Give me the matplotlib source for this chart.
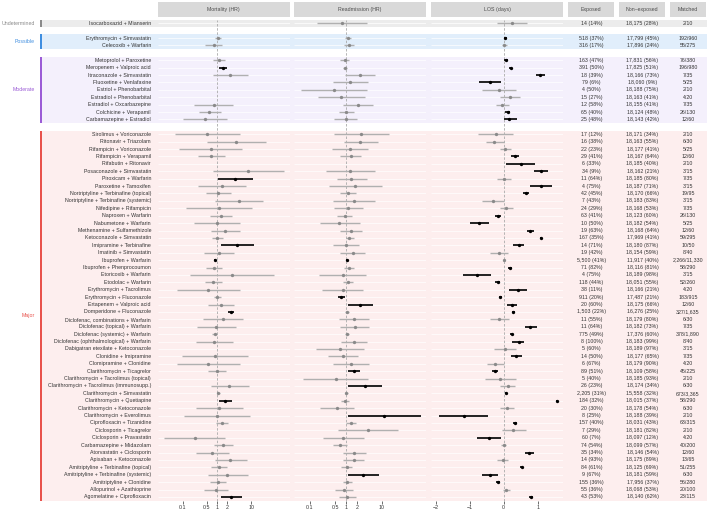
import numpy as np
import matplotlib
matplotlib.use("Agg")
import matplotlib.pyplot as plt
from matplotlib.patches import Rectangle

plt.rcParams['font.family'] = ['Liberation Sans', 'DejaVu Sans']

# ---------------- data ----------------
group_names = ['Undetermined', 'Possible', 'Moderate', 'Major']
group_sizes = [1, 2, 9, 50]
group_colors = ['#8a8a8a', '#3f8ee0', '#9b5cd6', '#e8524c']
band_colors = ['#ececec', '#e1eefb', '#f4f0fc', '#fdeeee']

labels = [
    "Isocarboxazid + Mianserin",
    "Erythromycin + Simvastatin", "Celecoxib + Warfarin",
    "Metoprolol + Paroxetine", "Meropenem + Valproic acid", "Itraconazole + Simvastatin",
    "Fluoxetine + Venlafaxine", "Estriol + Phenobarbital", "Estradiol + Phenobarbital",
    "Estradiol + Oxcarbazepine", "Colchicine + Verapamil", "Carbamazepine + Estradiol",
    "Sirolimus + Voriconazole", "Ritonavir + Triazolam", "Rifampicin + Voriconazole",
    "Rifampicin + Verapamil", "Rifabutin + Ritonavir", "Posaconazole + Simvastatin",
    "Piroxicam + Warfarin", "Paroxetine + Tamoxifen", "Nortriptyline + Terbinafine (topical)",
    "Nortriptyline + Terbinafine (systemic)", "Nifedipine + Rifampicin", "Naproxen + Warfarin",
    "Nabumetone + Warfarin", "Methenamine + Sulfamethizole", "Ketoconazole + Simvastatin",
    "Imipramine + Terbinafine", "Imatinib + Simvastatin", "Ibuprofen + Warfarin",
    "Ibuprofen + Phenprocoumon", "Etoricoxib + Warfarin", "Etodolac + Warfarin",
    "Erythromycin + Tacrolimus", "Erythromycin + Fluconazole", "Ertapenem + Valproic acid",
    "Domperidone + Fluconazole", "Diclofenac, combinations + Warfarin",
    "Diclofenac (topical) + Warfarin", "Diclofenac (systemic) + Warfarin",
    "Diclofenac (ophthalmological) + Warfarin", "Dabigatran etexilate + Ketoconazole",
    "Clonidine + Imipramine", "Clomipramine + Clonidine", "Clarithromycin + Ticagrelor",
    "Clarithromycin + Tacrolimus (topical)", "Clarithromycin + Tacrolimus (immunosupp.)",
    "Clarithromycin + Simvastatin", "Clarithromycin + Quetiapine",
    "Clarithromycin + Ketoconazole", "Clarithromycin + Everolimus",
    "Ciprofloxacin + Tizanidine", "Ciclosporin + Ticagrelor", "Ciclosporin + Pravastatin",
    "Carbamazepine + Midazolam", "Atorvastatin + Ciclosporin", "Apixaban + Ketoconazole",
    "Amitriptyline + Terbinafine (topical)", "Amitriptyline + Terbinafine (systemic)",
    "Amitriptyline + Clonidine", "Allopurinol + Azathioprine", "Agomelatine + Ciprofloxacin",
]

exposed = [
    "14 (14%)", "518 (37%)", "316 (17%)",
    "163 (47%)", "391 (50%)", "18 (39%)", "79 (6%)", "4 (50%)", "15 (27%)", "12 (58%)",
    "65 (40%)", "25 (48%)",
    "17 (12%)", "16 (38%)", "22 (23%)", "29 (41%)", "6 (33%)", "34 (9%)", "11 (64%)",
    "4 (75%)", "42 (45%)", "7 (43%)", "24 (29%)", "63 (41%)", "10 (50%)", "19 (63%)",
    "167 (35%)", "14 (71%)", "19 (42%)", "5,500 (41%)", "71 (82%)", "4 (75%)", "118 (44%)",
    "38 (11%)", "911 (20%)", "20 (60%)", "1,503 (22%)", "11 (55%)", "11 (64%)", "775 (49%)",
    "8 (100%)", "5 (60%)", "14 (50%)", "6 (67%)", "89 (51%)", "5 (40%)", "26 (23%)",
    "2,205 (31%)", "184 (32%)", "20 (30%)", "8 (25%)", "157 (40%)", "7 (29%)", "60 (7%)",
    "74 (54%)", "35 (34%)", "14 (93%)", "84 (61%)", "9 (67%)", "155 (36%)", "55 (36%)",
    "43 (53%)",
]

non_exposed = [
    "18,175 (28%)", "17,799 (45%)", "17,896 (24%)",
    "17,831 (56%)", "17,825 (51%)", "18,166 (73%)", "18,060 (9%)", "18,188 (75%)",
    "18,163 (41%)", "18,155 (41%)", "18,124 (48%)", "18,143 (42%)",
    "18,171 (34%)", "18,163 (55%)", "18,177 (41%)", "18,167 (64%)", "18,185 (40%)",
    "18,162 (21%)", "18,185 (80%)", "18,187 (71%)", "18,170 (66%)", "18,183 (83%)",
    "18,168 (53%)", "18,123 (60%)", "18,182 (54%)", "18,168 (64%)", "17,969 (41%)",
    "18,180 (87%)", "18,154 (59%)", "11,917 (40%)", "18,116 (81%)", "18,189 (98%)",
    "18,051 (55%)", "18,166 (21%)", "17,487 (21%)", "18,175 (66%)", "16,276 (25%)",
    "18,179 (80%)", "18,182 (73%)", "17,376 (60%)", "18,183 (99%)", "18,189 (97%)",
    "18,177 (65%)", "18,179 (90%)", "18,109 (58%)", "18,185 (93%)", "18,174 (34%)",
    "15,558 (32%)", "18,015 (37%)", "18,178 (54%)", "18,188 (39%)", "18,031 (43%)",
    "18,181 (82%)", "18,097 (12%)", "18,099 (57%)", "18,146 (54%)", "18,175 (89%)",
    "18,125 (69%)", "18,181 (59%)", "17,956 (37%)", "18,068 (53%)", "18,140 (62%)",
]

matched = [
    "2/10", "192/960", "55/275",
    "76/380", "196/980", "7/35", "5/25", "2/10", "4/20", "7/35", "26/130", "12/60",
    "2/10", "6/30", "5/25", "12/60", "2/10", "3/15", "7/35", "3/15", "19/95", "3/15",
    "7/35", "26/130", "5/25", "12/60", "59/295", "10/50", "8/40", "2,266/11,330", "58/290",
    "3/15", "52/260", "4/20", "183/915", "12/60", "327/1,635", "6/30", "7/35", "378/1,890",
    "8/40", "3/15", "7/35", "4/20", "45/225", "2/10", "6/30", "673/3,365", "58/290", "6/30",
    "2/10", "63/315", "2/10", "4/20", "40/200", "12/60", "13/65", "51/255", "6/30",
    "56/280", "20/100", "23/115",
]

nan = np.nan
mort_est = [nan, 1.07, 0.80, 1.12, 1.49, 2.49, nan, nan, nan, 0.80, 0.61, 0.46,
            0.51, 3.55, 0.66, 0.69, nan, 7.9, 3.4, 1.40, 1.09, 4.3, 1.12, 1.31, 1.0, 1.71,
            1.02, 3.8, 1.12, 0.89, 0.84, 2.84, 0.77, 0.55, 1.0, 1.34, 2.6, 1.53, 0.96, 0.86,
            0.84, nan, 0.87, 0.55, 0.98, nan, 2.28, 1.09, 1.71, 1.17, 0.98, 1.40, nan, 0.225,
            1.53, 0.73, 2.49, 1.12, 2.04, 1.07, 0.94, 2.66]
mort_lo = [nan, 0.86, 0.46, 0.75, 1.19, 0.77, nan, nan, nan, 0.22, 0.31, 0.10,
           0.059, 0.51, 0.081, 0.29, nan, 0.75, 1.07, 0.28, 0.48, 0.89, 0.13, 0.64, 0.22, 0.67,
           0.72, 1.28, 0.42, 0.83, 0.49, 0.17, 0.45, 0.068, 0.80, 0.57, 2.13, 0.40, 0.27, 0.73,
           0.24, nan, 0.099, 0.068, 0.54, nan, 0.67, 0.99, 1.12, 0.25, 0.11, 0.96, nan, 0.028,
           0.80, 0.25, 0.86, 0.69, 0.54, 0.64, 0.41, 1.31]
mort_hi = [nan, 1.34, 1.40, 1.74, 1.91, 7.9, nan, nan, nan, 2.97, 1.28, 2.04,
           4.6, 26.4, 5.5, 1.78, nan, 87.7, 11.3, 7.2, 2.66, 21.6, 10.3, 2.78, 4.7, 4.6,
           1.56, 12.2, 3.25, 0.96, 1.37, 47.0, 1.37, 4.6, 1.31, 3.1, 3.18, 5.9, 3.55, 1.02,
           3.04, nan, 7.9, 4.6, 1.82, nan, 8.5, 1.22, 2.72, 5.8, 9.0, 2.08, nan, 1.74,
           2.9, 2.28, 7.8, 1.95, 8.1, 1.82, 2.18, 5.55]
mort_sig = [0, 0, 0, 0, 1, 0, 0, 0, 0, 0, 0, 0,
            0, 0, 0, 0, 0, 0, 1, 0, 0, 0, 0, 0, 0, 0,
            0, 1, 0, 1, 0, 0, 0, 0, 0, 0, 1, 0, 0, 0,
            0, 0, 0, 0, 0, 0, 0, 0, 1, 0, 0, 0, 0, 0,
            0, 0, 0, 0, 0, 0, 0, 1]

readm_est = [0.77, 1.11, 1.19, 0.92, 0.92, 2.39, 1.29, 0.46, 0.74, 2.15, 1.02, 0.98,
             2.67, 2.5, 1.26, 1.35, nan, 1.29, 1.41, 1.82, 1.11, 1.63, 1.14, 0.92, 0.65, 1.35,
             1.24, 0.98, 1.53, 1.07, 1.19, 0.81, 1.11, 0.81, 0.74, 2.5, 1.04, 1.63, 1.74, 1.07,
             1.67, 0.68, 0.83, 1.41, 1.70, 0.53, 3.3, 1.0, 0.94, 0.56, 11.4, 1.38, 4.0, 0.84,
             0.68, 1.67, 1.63, 1.04, 3.03, 1.09, 0.86, 1.07]
readm_lo = [0.16, 0.92, 0.86, 0.70, 0.81, 0.96, 0.43, 0.056, 0.17, 0.84, 0.65, 0.48,
            0.47, 0.86, 0.41, 0.68, nan, 0.28, 0.55, 0.34, 0.67, 0.44, 0.46, 0.57, 0.19, 0.68,
            0.98, 0.44, 0.67, 1.02, 0.86, 0.18, 0.81, 0.22, 0.60, 1.14, 0.92, 0.63, 0.68, 0.94,
            0.74, 0.15, 0.32, 0.44, 1.16, 0.066, 1.16, 0.92, 0.74, 0.19, 1.11, 0.99, 0.60, 0.23,
            0.45, 0.81, 0.84, 0.73, 1.11, 0.84, 0.50, 0.63]
readm_hi = [3.75, 1.35, 1.67, 1.24, 1.07, 6.25, 4.0, 3.75, 3.3, 5.6, 1.67, 2.02,
            15.3, 7.6, 4.0, 2.61, nan, 6.25, 3.75, 9.8, 1.90, 6.25, 2.9, 1.50, 2.39, 2.72,
            1.67, 2.3, 3.4, 1.12, 1.67, 3.67, 1.56, 2.9, 0.92, 5.6, 1.19, 4.3, 4.5, 1.24,
            3.9, 3.1, 2.2, 4.5, 2.45, 4.0, 9.8, 1.11, 1.21, 1.67, 123.0, 1.90, 27.8, 3.1,
            1.09, 3.5, 3.1, 1.50, 8.4, 1.44, 1.53, 1.86]
readm_sig = [0, 0, 0, 0, 0, 0, 0, 0, 0, 0, 0, 0,
             0, 0, 0, 0, 0, 0, 0, 0, 0, 0, 0, 0, 0, 0,
             0, 0, 0, 1, 0, 0, 0, 0, 1, 1, 0, 0, 0, 0,
             0, 0, 0, 0, 1, 0, 1, 0, 0, 0, 1, 0, 0, 0,
             0, 0, 0, 0, 1, 0, 0, 0]

los_est = [0.25, 0.05, 0.02, 0.08, 0.21, 1.08, -0.41, -0.15, 0.19, -0.05, 0.12, 0.17,
           -0.23, -0.27, 0.05, 0.34, 0.50, 1.11, 0.02, 1.10, 0.65, -0.30, 0.08, -0.16, -0.72, 0.79,
           1.10, 0.44, -0.15, 0.0, 0.19, -0.79, -0.17, 0.42, -0.10, 0.24, 0.29, -0.13, 0.79, 0.24,
           0.44, 0.05, 0.37, -0.24, -0.26, -0.10, 0.12, 0.07, 1.57, 0.10, -1.18, 0.34, 0.29, -0.44,
           0.0, 0.76, -0.03, 0.53, -0.41, -0.17, 0.08, 0.80]
los_lo = [-0.19, 0.01, -0.05, 0.02, 0.17, 0.94, -0.72, -0.63, -0.10, -0.22, 0.04, 0.01,
          -0.76, -0.53, -0.12, 0.23, 0.08, 0.90, -0.19, 0.78, 0.56, -0.63, -0.10, -0.24, -1.0, 0.70,
          1.07, 0.29, -0.39, -0.03, 0.14, -1.20, -0.24, 0.16, -0.14, 0.10, 0.25, -0.39, 0.63, 0.20,
          0.26, -0.27, 0.21, -0.48, -0.34, -0.55, -0.10, 0.04, 1.54, -0.12, -1.90, 0.28, -0.06, -0.78,
          -0.07, 0.62, -0.19, 0.48, -0.65, -0.23, -0.01, 0.74]
los_hi = [0.70, 0.09, 0.10, 0.14, 0.25, 1.21, -0.08, 0.37, 0.48, 0.15, 0.20, 0.38,
          0.29, 0.0, 0.21, 0.46, 0.92, 1.32, 0.23, 1.43, 0.75, 0.02, 0.29, -0.08, -0.42, 0.89,
          1.13, 0.61, 0.12, 0.03, 0.25, -0.38, -0.10, 0.68, -0.06, 0.39, 0.33, 0.16, 0.97, 0.28,
          0.61, 0.37, 0.53, 0.0, -0.18, 0.36, 0.34, 0.10, 1.60, 0.31, -0.46, 0.40, 0.65, -0.09,
          0.07, 0.90, 0.14, 0.58, -0.16, -0.11, 0.19, 0.87]
los_sig = [0, 1, 0, 1, 1, 1, 1, 0, 0, 0, 1, 1,
           0, 0, 0, 1, 1, 1, 0, 1, 1, 0, 0, 1, 1, 1,
           1, 1, 0, 0, 1, 1, 1, 1, 1, 1, 1, 0, 1, 1,
           1, 0, 1, 0, 1, 0, 0, 1, 1, 0, 1, 1, 0, 1,
           0, 1, 0, 1, 1, 1, 0, 1]

panel_titles = ["Mortality (HR)", "Readmission (HR)", "LOS (days)"]
table_titles = ["Exposed", "Non\u2013exposed", "Matched"]
hr_ticks = [0.1, 0.5, 1, 2, 10]
hr_ticklabels = ["0.1", "0.5", "1", "2", "10"]
los_ticks = [-2, -1, 0, 1]
los_ticklabels = ["\u22122", "\u22121", "0", "1"]

# ---------------- layout ----------------
W, H = 709, 511
fig = plt.figure(figsize=(W / 100, H / 100), dpi=100)
FS = 3.8
TXT = '#333333'

slot_of_row = []
group_span = []
s = 0
for n in group_sizes:
    group_span.append((s, s + n - 1))
    for i in range(n):
        slot_of_row.append(s)
        s += 1
    s += 1
last_slot = s - 2
y_top_px = 23.3 - 3.7
y_bot_px = 23.3 + 7.4 * last_slot + 3.7
ylim = (last_slot + 0.5, -0.5)
ys = np.array(slot_of_row, dtype=float)


def rect_px(x0, x1, y0, y1):
    return [x0 / W, 1 - y1 / H, (x1 - x0) / W, (y1 - y0) / H]


ax_top = fig.add_axes([0, 0, 1, 1], zorder=0)
ax_top.set_xlim(0, W)
ax_top.set_ylim(H, 0)
ax_top.axis('off')

ax_bg = fig.add_axes(rect_px(0, W, y_top_px, y_bot_px), zorder=1)
ax_bg.set_xlim(0, W)
ax_bg.set_ylim(*ylim)
ax_bg.axis('off')

for g, (a, b) in enumerate(group_span):
    ax_bg.add_patch(Rectangle((42, a - 0.5), 665, b - a + 1, facecolor=band_colors[g],
                              edgecolor='none', zorder=0))
    ax_bg.add_patch(Rectangle((39.5, a - 0.5), 2.2, b - a + 1, facecolor=group_colors[g],
                              edgecolor='none', zorder=1))
    ax_bg.text(35, (a + b) / 2, group_names[g], ha='right', va='center', fontsize=FS,
               color=group_colors[g])

for i, lab in enumerate(labels):
    y = ys[i]
    ax_bg.text(151, y, lab, ha='right', va='center', fontsize=FS, color=TXT)
    ax_bg.text(591.5, y, exposed[i], ha='center', va='center', fontsize=FS, color=TXT)
    ax_bg.text(642.5, y, non_exposed[i], ha='center', va='center', fontsize=FS, color=TXT)
    ax_bg.text(688, y, matched[i], ha='center', va='center', fontsize=FS, color=TXT)

panel_x = [(157.5, 289.6), (294, 426), (431, 563)]
table_x = [(568, 614), (619, 665), (670, 706)]
for (x0, x1), t in zip(panel_x + table_x, panel_titles + table_titles):
    ax_top.add_patch(Rectangle((x0, 2.3), x1 - x0, 14.4, facecolor='#d9d9d9', edgecolor='none'))
    ax_top.text((x0 + x1) / 2, 9.5, t, ha='center', va='center', fontsize=FS, color='#4d4d4d')

panel_lims = [(10 ** -1.73, 10 ** 2.12), (10 ** -1.44, 10 ** 2.22), (-2.14, 1.75)]
panel_data = [
    (mort_est, mort_lo, mort_hi, mort_sig),
    (readm_est, readm_lo, readm_hi, readm_sig),
    (los_est, los_lo, los_hi, los_sig),
]
for p, ((x0, x1), lim, (est, lo, hi, sig)) in enumerate(zip(panel_x, panel_lims, panel_data)):
    ax = fig.add_axes(rect_px(x0, x1, y_top_px, y_bot_px), zorder=2)
    ax.patch.set_alpha(0)
    if p < 2:
        ax.set_xscale('log')
    ax.set_xlim(*lim)
    ax.set_ylim(*ylim)
    for sp in ax.spines.values():
        sp.set_visible(False)
    ax.hlines(ys, lim[0], lim[1], color='white', lw=0.5, zorder=0.5)
    ref = 1 if p < 2 else 0
    ax.axvline(ref, color='#aaaaaa', lw=0.6, ls=(0, (3, 2)), zorder=1)
    est = np.array(est, float); lo = np.array(lo, float); hi = np.array(hi, float)
    sig = np.array(sig, bool)
    for mask, lc, pc, lw in [(~sig, '#b0b0b0', '#8a8a8a', 1.0), (sig, '#111111', '#000000', 1.3)]:
        m = mask & ~np.isnan(est)
        ax.hlines(ys[m], lo[m], hi[m], color=lc, lw=lw, zorder=2)
        ax.plot(est[m], ys[m], 'o', ms=2.4, color=pc, mec='none', zorder=3)
    ax.set_yticks([])
    if p < 2:
        ax.set_xticks(hr_ticks)
        ax.set_xticklabels(hr_ticklabels)
        ax.minorticks_off()
    else:
        ax.set_xticks(los_ticks)
        ax.set_xticklabels(los_ticklabels)
    ax.tick_params(axis='x', length=2, width=0.5, color='#333333', labelsize=FS,
                   labelcolor='#333333', pad=1)

fig.savefig("out.png", dpi=100)
